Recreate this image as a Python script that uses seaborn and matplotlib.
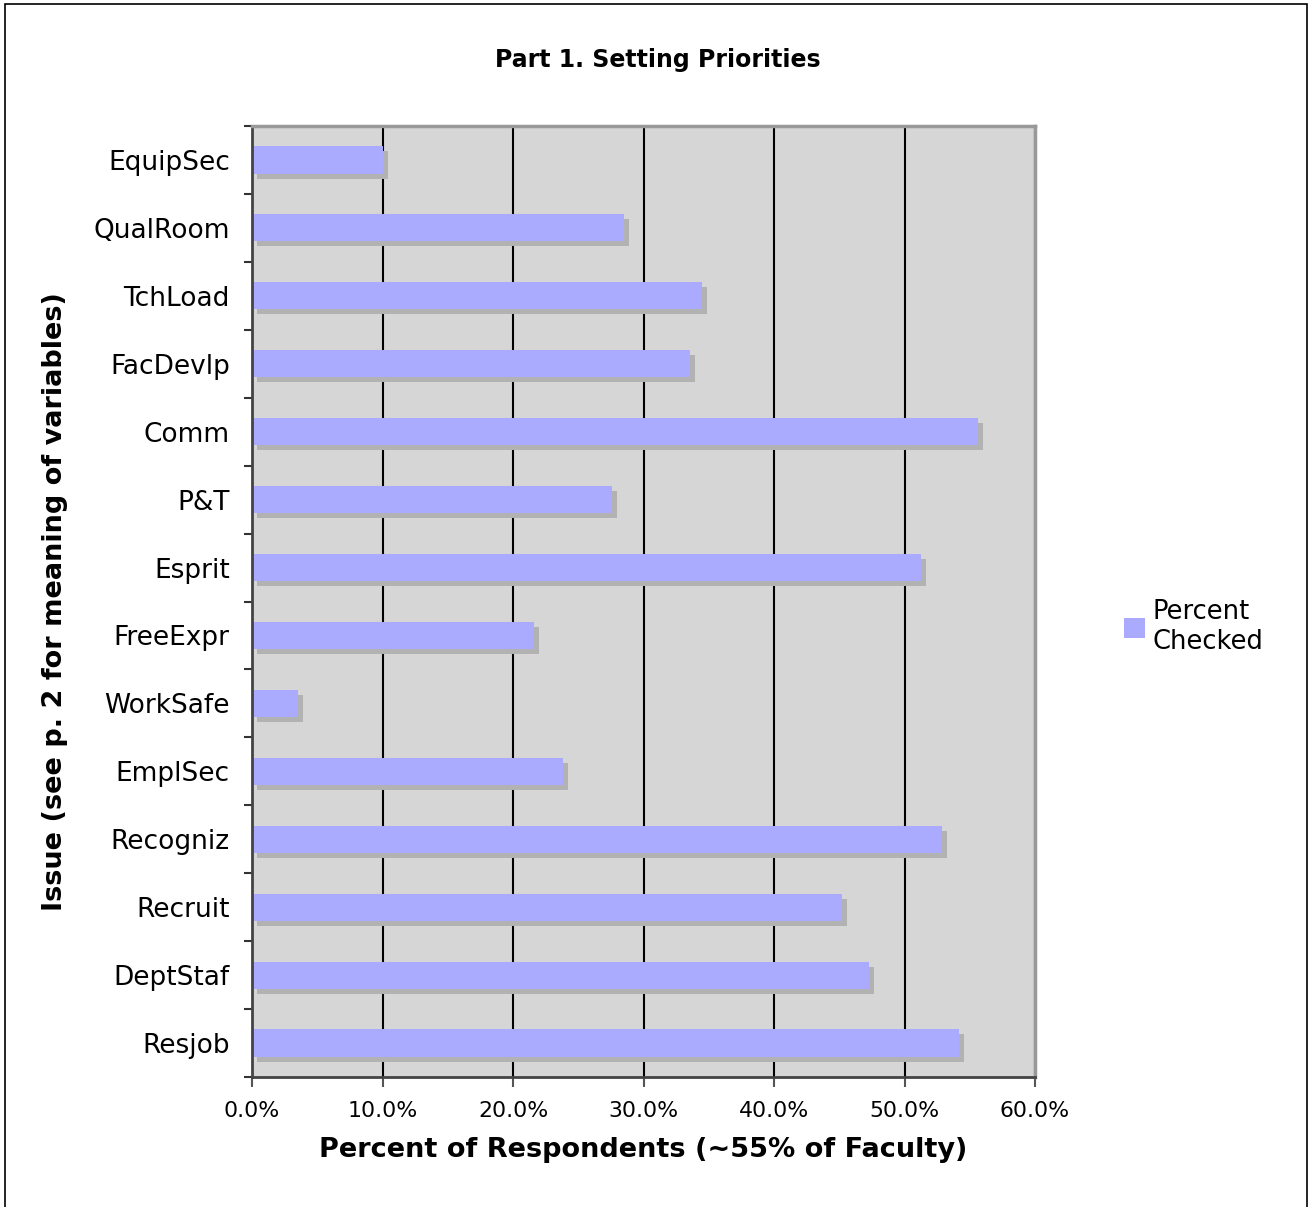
import matplotlib
matplotlib.use("Agg")
import matplotlib.pyplot as plt
import matplotlib.patheffects as pe
from matplotlib.patches import Patch, Rectangle
from matplotlib.ticker import FixedLocator, PercentFormatter
import numpy as np
import seaborn as sns

sns.set_theme(style="white")
plt.rcParams['font.family'] = ['DejaVu Sans']
plt.rcParams['text.color'] = 'black'
plt.rcParams['axes.labelcolor'] = 'black'
plt.rcParams['xtick.labelcolor'] = 'black'
plt.rcParams['ytick.labelcolor'] = 'black'

# data, top to bottom
issues = ["EquipSec", "QualRoom", "TchLoad", "FacDevlp", "Comm", "P&T", "Esprit",
          "FreeExpr", "WorkSafe", "EmplSec", "Recogniz", "Recruit", "DeptStaf", "Resjob"]
pct_checked = [10.0, 28.5, 34.5, 33.6, 55.6, 27.6, 51.3, 21.6, 3.5, 23.8, 52.9, 45.2, 47.3, 54.2]
x_ticks = [0, 10, 20, 30, 40, 50, 60]

bar_color = "#AAAAFF"

fig = plt.figure(figsize=(13.09, 12.07), dpi=100)
ax = fig.add_axes([252/1309, 1 - 1077/1207, (1035-252)/1309, (1077-126)/1207])

sns.barplot(x=pct_checked, y=issues, color=bar_color, saturation=1, width=0.4,
            ax=ax, orient="h")

# drop shadow on each bar
for bar in ax.patches:
    bar.set_edgecolor("none")
    bar.set_path_effects([pe.SimplePatchShadow(offset=(3.6, -3.6), shadow_rgbFace="#b2b2b2", alpha=1.0),
                          pe.Normal()])

ax.set_facecolor("#D6D6D6")
ax.set_xlim(0, 60)
ax.set_ylim(len(issues) - 0.5, -0.5)
ax.xaxis.set_major_locator(FixedLocator(x_ticks))
ax.xaxis.set_major_formatter(PercentFormatter(decimals=1))
ax.set_axisbelow(True)
ax.grid(axis="x", color="black", linewidth=1.5)
ax.grid(axis="y", visible=False)

# category ticks between bars (Excel style)
ax.set_yticks(np.arange(len(issues)))
ax.set_yticklabels(issues)
ax.set_yticks(np.arange(len(issues) + 1) - 0.5, minor=True)
ax.tick_params(axis="y", which="major", length=0, labelsize=19, pad=16)
ax.tick_params(axis="y", which="minor", length=6, width=1.5, color="#333333", direction="out", left=True)
ax.tick_params(axis="x", which="major", length=7, width=1.5, color="#555555", direction="out",
               labelsize=15.8, pad=10, bottom=True)

for side in ["left", "bottom"]:
    ax.spines[side].set_color("#444444")
    ax.spines[side].set_linewidth(2)
for side in ["top", "right"]:
    ax.spines[side].set_color("#999999")
    ax.spines[side].set_linewidth(2.5)

ax.set_xlabel("Percent of Respondents (~55% of Faculty)", fontsize=19.5, fontweight="bold", labelpad=12)
ax.set_ylabel("Issue (see p. 2 for meaning of variables)", fontsize=19.5, fontweight="bold", labelpad=18)

fig.text(658/1309, 1 - 60/1207, "Part 1. Setting Priorities", ha="center", va="center",
         fontsize=17, fontweight="bold")

handles = [Patch(facecolor=bar_color, edgecolor="none")]
fig.legend(handles, ["Percent\nChecked"], loc="center left", bbox_to_anchor=(1114/1309, 1 - 627/1207),
           frameon=False, fontsize=18.5, handlelength=0.8, handleheight=0.8, handletextpad=0.3,
           borderaxespad=0)

# outer chart border
fig.patches.append(Rectangle((5/1309, -0.01), (1307-5)/1309, 1 - 4/1207 + 0.01,
                             transform=fig.transFigure, fill=False, edgecolor="black", linewidth=1.2))

fig.savefig("out.png", dpi=100)
